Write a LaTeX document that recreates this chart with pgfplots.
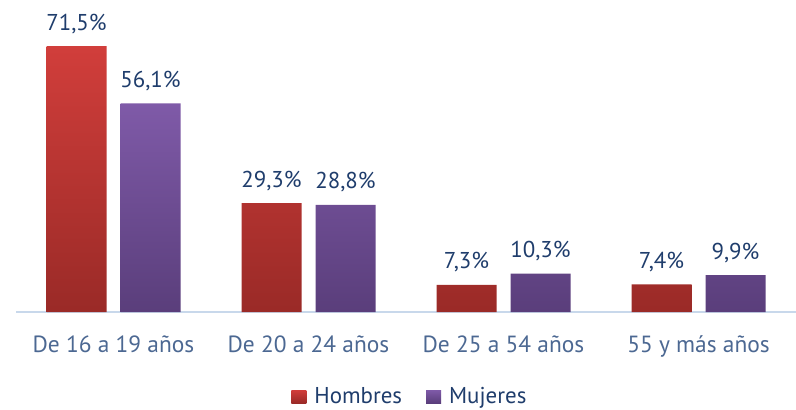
\documentclass[border=0pt]{standalone}
\usepackage{fontspec}
\setmainfont{PT Sans}
\usepackage{pgfplots}
\pgfplotsset{compat=1.18}
\definecolor{hredtop}{HTML}{D13E3B}
\definecolor{hredbot}{HTML}{9A2A27}
\definecolor{mpurtop}{HTML}{7F5AA8}
\definecolor{mpurbot}{HTML}{5A3E7B}
\definecolor{navy}{HTML}{1F3D6C}
\definecolor{catblue}{HTML}{4C6892}
\definecolor{baseln}{HTML}{C8D8EB}
\begin{document}
\begin{tikzpicture}
\path[use as bounding box] (0,0) rectangle (796bp,410bp);
\begin{axis}[
  at={(16bp,98bp)}, anchor=south west,
  scale only axis, width=780bp, height=297.6bp,
  xmin=-0.5, xmax=3.5, ymin=0, ymax=80,
  ybar=14bp, bar width=60bp,
  axis x line*=bottom, hide y axis,
  axis line style={baseln, line width=1.2pt},
  x axis line style={-},
  major tick length=0pt,
  xtick={0,1,2,3},
  xticklabels={De 16 a 19 años, De 20 a 24 años, De 25 a 54 años, 55 y más años},
  xticklabel style={font=\fontsize{23.5}{27}\selectfont, text=catblue, yshift=-20bp},
  clip=false,
  nodes near coords={\pgfmathprintnumber{\pgfplotspointmeta}\%},
  nodes near coords style={font=\fontsize{23}{27}\selectfont, text=navy, anchor=south, yshift=9bp,
    /pgf/number format/.cd, fixed, fixed zerofill, precision=1, use comma, assume math mode=true},
  legend columns=2,
  legend style={draw=none, at={(0.505,-0.284)}, anchor=center,
    font=\fontsize{23}{27}\selectfont, text=navy, inner sep=0pt,
    /tikz/every even column/.append style={column sep=22bp},
    /tikz/every odd column/.append style={column sep=6bp}},
  legend image code/.code={\path[#1] (0bp,-6.5bp) rectangle (15bp,6.5bp);},
]
\addplot[draw=none, top color=hredtop, bottom color=hredbot] coordinates {(0,71.5) (1,29.3) (2,7.3) (3,7.4)};
\addlegendentry{Hombres}
\addplot[draw=none, top color=mpurtop, bottom color=mpurbot] coordinates {(0,56.1) (1,28.8) (2,10.3) (3,9.9)};
\addlegendentry{Mujeres}
\end{axis}
\end{tikzpicture}
\end{document}
